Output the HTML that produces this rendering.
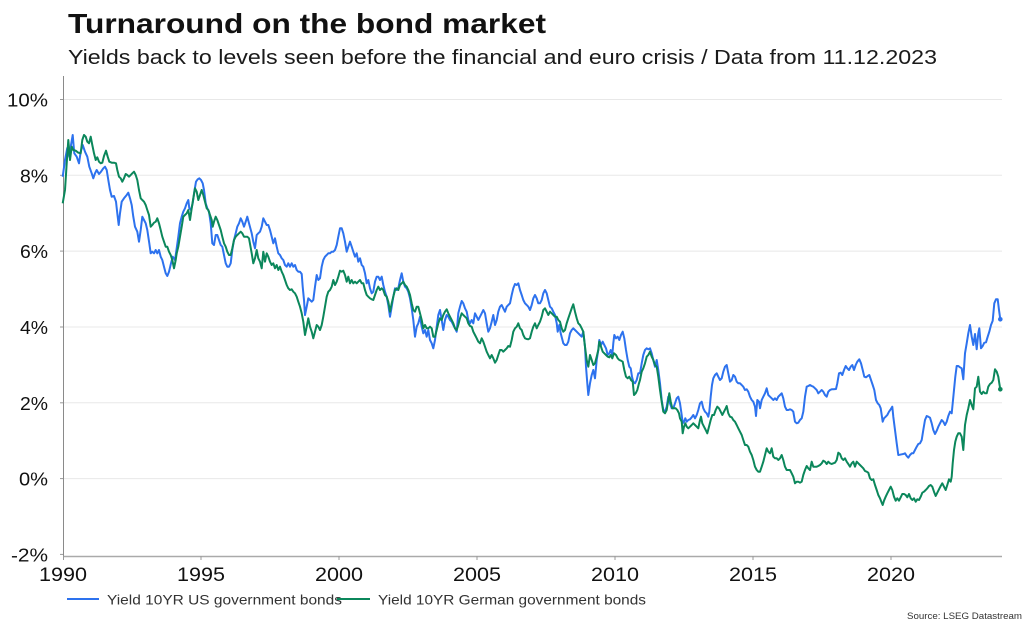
<!DOCTYPE html>
<html>
<head>
<meta charset="utf-8">
<style>
  html,body{margin:0;padding:0;background:#fff;}
  svg{display:block;}
  text{font-family:"Liberation Sans",sans-serif;fill:#111;}
</style>
</head>
<body>
<svg width="1024" height="623" viewBox="0 0 1024 623" xmlns="http://www.w3.org/2000/svg">
  <rect width="1024" height="623" fill="#fff"/>
  <!-- Title -->
  <text x="68" y="33" font-size="28" font-weight="bold" textLength="478" lengthAdjust="spacingAndGlyphs">Turnaround on the bond market</text>
  <text x="68" y="64" font-size="20" textLength="869" lengthAdjust="spacingAndGlyphs" style="fill:#1a1a1a">Yields back to levels seen before the financial and euro crisis / Data from 11.12.2023</text>

  <!-- gridlines -->
  <g stroke="#e8e8e8" stroke-width="1">
    <line x1="63" y1="99.5" x2="1002" y2="99.5"/>
    <line x1="63" y1="175.3" x2="1002" y2="175.3"/>
    <line x1="63" y1="251.1" x2="1002" y2="251.1"/>
    <line x1="63" y1="327" x2="1002" y2="327"/>
    <line x1="63" y1="402.8" x2="1002" y2="402.8"/>
    <line x1="63" y1="478.6" x2="1002" y2="478.6"/>
  </g>
  <!-- y ticks -->
  <g stroke="#999" stroke-width="1">
    <line x1="60" y1="99.5" x2="63" y2="99.5"/>
    <line x1="60" y1="175.3" x2="63" y2="175.3"/>
    <line x1="60" y1="251.1" x2="63" y2="251.1"/>
    <line x1="60" y1="327" x2="63" y2="327"/>
    <line x1="60" y1="402.8" x2="63" y2="402.8"/>
    <line x1="60" y1="478.6" x2="63" y2="478.6"/>
    <line x1="60" y1="554.4" x2="63" y2="554.4"/>
  </g>
  <!-- axes -->
  <line x1="63.5" y1="76" x2="63.5" y2="557" stroke="#8a8a8a" stroke-width="1"/>
  <line x1="63" y1="556.5" x2="1002" y2="556.5" stroke="#aaa" stroke-width="1.5"/>
  <g stroke="#999" stroke-width="1">
    <line x1="63.5" y1="556" x2="63.5" y2="560"/>
    <line x1="201" y1="556" x2="201" y2="560"/>
    <line x1="339" y1="556" x2="339" y2="560"/>
    <line x1="477" y1="556" x2="477" y2="560"/>
    <line x1="615" y1="556" x2="615" y2="560"/>
    <line x1="753" y1="556" x2="753" y2="560"/>
    <line x1="891" y1="556" x2="891" y2="560"/>
  </g>

  <!-- y labels -->
  <g font-size="18">
    <text x="7" y="106.5" textLength="41" lengthAdjust="spacingAndGlyphs">10%</text>
    <text x="20" y="182.3" textLength="28" lengthAdjust="spacingAndGlyphs">8%</text>
    <text x="20" y="258.1" textLength="28" lengthAdjust="spacingAndGlyphs">6%</text>
    <text x="20" y="334" textLength="28" lengthAdjust="spacingAndGlyphs">4%</text>
    <text x="20" y="409.8" textLength="28" lengthAdjust="spacingAndGlyphs">2%</text>
    <text x="19" y="485.6" textLength="29" lengthAdjust="spacingAndGlyphs">0%</text>
    <text x="11" y="561.4" textLength="37" lengthAdjust="spacingAndGlyphs">-2%</text>
  </g>
  <!-- x labels -->
  <g font-size="19">
    <text x="39" y="581" textLength="48" lengthAdjust="spacingAndGlyphs">1990</text>
    <text x="177" y="581" textLength="48" lengthAdjust="spacingAndGlyphs">1995</text>
    <text x="315" y="581" textLength="48" lengthAdjust="spacingAndGlyphs">2000</text>
    <text x="453" y="581" textLength="48" lengthAdjust="spacingAndGlyphs">2005</text>
    <text x="591" y="581" textLength="48" lengthAdjust="spacingAndGlyphs">2010</text>
    <text x="729" y="581" textLength="48" lengthAdjust="spacingAndGlyphs">2015</text>
    <text x="867" y="581" textLength="48" lengthAdjust="spacingAndGlyphs">2020</text>
  </g>

  <!-- US series -->
  <polyline fill="none" stroke="#2d72ee" stroke-width="2" stroke-linejoin="round" points="
62.7,176.7 65,160 67.3,148 69.3,156.7 71,145 72.7,135 74.3,153.3 76.7,156.7 79,163.3 80.7,151.7 82.7,145 85,151.7 87.3,156.7 89.3,166.7 91.7,173.3 93.3,178.3 95,173.3 96.7,170 99,174 101,171.7 103.3,168.3 105,166.7 106.7,170 108.3,180 110,190 111.7,196.7 114,196 116,201.7 117.3,213.3 118.7,225 120,213.3 121.7,201.7 124,198.3 126.7,195 128.3,192.7 130,198.3 131.7,205 133.3,216.7 135,226.7 137.3,231.7 139,241.7 140.7,230 142.3,216.7 144,220 145.7,223.3 147.3,230 149.3,243.3 150.7,253.3 152.3,251.7 154,253.3 155.7,250 157.3,253.3 159,250 160.7,256.7 162.3,260 164,266.7 165.7,273.3 167.3,276 169,271.7 171,263.3 172.7,256.7 175,260 176.7,248.3 178.3,236.7 180,223.3 181.7,216.7 183.3,211.7 185,208.3 186.7,203.3 188.3,200 189.3,208.3 191,210 192.7,203.3 194.3,191.7 196,181.7 197.7,179.3 199.3,178.3 201,180 202.7,183.3 204,190 205.7,203.3 207.3,208.3 209,211.7 210.7,223.3 212.3,243.3 214,245 215.7,235 217.3,235 219,240 220.7,245 222.3,246.7 224,255 225.7,263.3 227.3,266.7 229,266.7 230.7,263.3 232.3,250 234,240 235.7,233.3 237.3,226.7 239,223.3 240.7,218.3 242.3,221.7 244,226.7 245.7,221.7 247.3,216.7 249,223.3
251.7,233.3 253.3,241.7 255,248.3 256.7,235 258.3,233.3 260,231.7 261.7,226.7 263.3,218.3 265,221.7 266.7,225 268.3,225 270,230 271.7,236.7 273.3,243.3 275,238.3 276.7,246.7 278.3,253.3 280,255 281.7,258.3 283.3,260 285,265 286.7,266.7 288.3,263.3 290,266.7 291.7,263.3 293.3,266.7 295,265 296.7,270 298.3,271.7 300,271.7 301.7,274 302.7,286.7 304,300 305,315 306.7,306.7 308.3,298.3 310,300 311.7,301.7 313.3,300 315,286.7 316.7,275 318.3,280 320,278.3 321.7,266.7 323.3,260 325,256.7 326.7,255 328.3,253.3 330,253.3 331.7,251.7 333.3,251.7 335,250 336.7,245 338.3,236.7 340,228.3 341.7,228.3 343.3,233.3 345,241.7 346.7,251.7 348.3,246.7 350,241.7 351.7,246.7 353.3,251.7 355,256.7 356.7,253.3 358.3,261.7 360,258.3 361.7,265 363.3,266.7 365,273.3 366.7,283.3 368.3,280 370,288.3 371.7,293.3 373.3,291.7 375,281.7 376.7,276.7 378.3,276.7 380,280 381.7,276.7 383.3,285 385,291.7 386.7,296.7 388.3,305 390,316.7 391.7,306.7 393.3,296.7 395,288.3 396.7,290 398.3,288.3 400,280 401.7,273.3 403.3,281.7 405,286.7 406.7,288.3 408.3,291.7 410,298.3 411.7,308.3 413.3,320 415,336.7 416.7,326.7 418.3,323.3 420,316.7 421.7,326.7 423.3,333.3 425,330 426.7,336.7 428.3,330 430,340 431.7,343.3 433.3,348.3 435,340 436.7,326.7 438.3,315
440,310 441.7,320 443.3,330 445,320 446.7,315 448.3,316.7 450,320 451.7,321.7 453.3,325 455,328.3 456.7,331.7 458.3,313.3 460,306.7 461.7,301 463.3,303.3 465,308.3 466.7,311.7 468.3,320 470,323.3 471.7,320 473.3,323.3 475,313.3 476.7,316.7 478.3,320 480,316.7 481.7,313.3 483.3,310 485,313.3 486.7,323.3 488.3,331.7 490,328.3 491.7,321.7 493.3,315 495,325 496.7,320 498.3,311.7 500,306.7 501.7,305 503.3,308.3 505,311.7 506.7,306.7 508.3,305 510,303.3 511.7,295 513.3,288.3 515,284 516.7,285 518.3,283.3 520,290 521.7,295 523.3,300 525,303.3 526.7,305 528.3,306.7 530,310 531.7,305 533.3,298.3 535,295 536.7,298.3 538.3,303.3 540,303.3 541.7,300 543.3,293.3 545,290 546.7,293.3 548.3,300 550,306.7 551.7,308.3 553.3,311.7 555,315 556.7,323.3 557.7,331.7 559.3,325 560.7,333.3 562,338.3 563.3,343.3 565,345 566.7,345 568.3,341.7 570,333.3 571.7,330 573.3,328.3 575,330 576.7,331.7 578.3,333.3 580,335 581.7,336.7 583.3,331.7 585,346.7 586,366.7 587.3,383.3 588.3,395 590,383.3 591.7,375 593.3,370 595,378.3 596.7,360 598.3,350 599.3,340 601,345 602.7,341.7 604.3,345 606,348.3 607.7,355 609.3,353.3 610.7,350 612.3,355 613.3,343.3 614.3,335 616,338.3 617.7,336.7 619.3,340 621,335 622.7,331.7 624.3,338.3 626,350 627.7,360 629.3,366.7 630.7,368.3 632,376.7 633.3,381.7 635,383.3 636.7,380 638.3,373.3 640,373.3
641.7,363.3 643.3,355 645,350 646.7,348.3 648.3,349.3 650,348.3 651.7,353.3 653.3,360 655,366.7 656.7,360 658.3,370 660,383.3 661.7,400 663.3,410 665,411.7 666.7,406.7 668.3,396.7 670,403.3 671.7,408.3 673.3,408.3 675,403.3 676.7,398.3 678.3,396.7 680,403.3 681.7,415 682.7,423.3 684,421.7 685.3,418.3 686.7,421.7 688.3,420 690,419.3 691.7,417.3 693.3,415 695,418.3 696.7,415 698.3,410 700,403.3 701.7,401.7 703.3,408.3 705,411.7 706.7,413.3 708.3,416.7 709.3,411.7 710.7,396.7 712,385 713.3,378.3 715,375 716.7,373.3 718.3,376.7 720,380 721.7,378.3 723.3,371.7 725,366.7 726.7,365 728.3,373.3 730,381.7 731.7,380 733.3,375 735,376.7 736.7,381.7 738.3,383.3 740,383.3 741.7,385 743.3,386.7 745,390 746.7,389.3 748.3,391.7 750,396.7 751.7,400 753.3,401.7 755,406.7 756,416 757.3,400 759,401.7 760,408.3 761.7,400 763.3,396.7 765,393.3 766.7,388.3 768.3,395 770,396.7 771.7,398.3 773.3,400 775,398.3 776.7,400 778.3,396.7 780,395 781.7,393.3 783.3,398.3 785,406.7 786.7,410 788.3,410 790,409.3 791.7,410 793.3,411.7 795,421.7 796.7,423.3 798.3,422.7 800,420 801.7,418.3 803.3,411.7 805,396.7 806.7,386.7 808.3,386 810,385 811.7,386 813.3,386.7 815,388.3 816.7,390 818.3,393.3 820,391.7 821.7,390 823.3,391.7 825,395 826.7,396.7 828.3,391.7 830,390
831.7,389.3 833.3,389.3 836,389 837.3,383.3 839,373.3 840.7,372.7 842.3,375 844,370 845.7,366 847.3,368.3 849,370 850.7,366.7 852.3,365 854,370 855.7,365 857.3,361.7 859.3,359.3 861,363.3 862.7,370 864.3,376.7 866,377.3 867.7,376 869.3,375 871,380 872.7,385 874.3,390 876,400 877.7,403.3 879.3,405 880.7,408.3 881.7,415 882.7,421.7 884,418.3 885.7,416.7 887.3,415 889,411.7 890.7,409.3 892.3,406.7 893.3,416.7 895,430 896.7,443.3 898.3,455 900,454.7 901.7,454.3 903.3,454 905,453.3 906.7,456 908.3,457.7 910,455 911.7,453.3 913.3,453.3 915,450 916.7,446.7 918.3,444 920,443.3 921.7,440 923.3,430 925,420 926.7,416 928.3,416.7 930,417.7 931.7,423.3 933.3,430 935,434 936.7,430.7 938.3,426.7 940,423.3 941.7,420 943.3,421.7 945,425 946.7,421.7 948.3,416 950,411.7 951.7,413.3 952.7,403.3 954,390 955.3,376.7 956.7,366 958.3,366 960,367.3 961.7,368.3 963.3,379.3 965,353.3 966.7,343.3 968.3,333.3 970,325 971.7,336.7 973.3,345 975,334 976.7,349.3 978.3,333.3 979.3,328.3 981,348.3 982.7,346 984.3,342.7 986,342.3 987.7,336.7 989.3,331.7 991,325 992.7,320.7 994.3,303.3 996,299.3 997.7,299.3 999,310 1000.3,319.3"/>
  <circle cx="1000.3" cy="319.3" r="2.3" fill="#2d72ee"/>

  <!-- German series -->
  <polyline fill="none" stroke="#0b875b" stroke-width="2" stroke-linejoin="round" points="
62.7,203.3 65,190 66.7,163.3 68.3,140 70,160 71.7,146.7 73.3,150 75.7,150.7 78.3,152.7 80.7,153.3 82.3,140 84,135 85.7,136.7 87.3,141.7 89,143.3 90.7,136.7 92.3,145 94,153.3 95.7,160 97.3,157.3 99,161.7 100.7,163.3 102.3,162.7 104,156 106,150.7 107.7,156.7 109.3,161.7 111.7,162.7 114,162.7 116,163.3 117.3,170 119,176.7 120.7,178.3 122.3,181.7 124,178.3 125.7,174 127.3,175 129,176.7 130.7,175 132.3,173.3 134,171.7 135.7,175 137.3,180 139,190 140.7,198.3 142.3,200 144,201.7 145.7,205 147.3,210 149,215 150.7,226.7 152.3,225 154,222.7 155.7,221.7 157.3,218.3 159,223.3 160.7,230 162.3,236.7 164,241.7 165.7,246.7 167.3,246.7 169,251.7 170.7,255 172.3,260 174,268.3 175.7,260 176.7,253.3 178.3,246.7 180,236.7 181.7,226.7 183.3,216.7 185,215 186.7,213.3 188.3,210 190,220 191.7,208.3 193.3,198.3 195,188.3 196.7,191.7 198.3,200 200,195 201.7,190 203.3,195 205,201.7 206.7,208.3 208.3,210 210,215 211.7,220 212.7,226.7 214,221.7 215.7,216.7 217.3,220 219,225 220.7,230 222.3,236.7 224,243.3 225.7,246.7 227.3,251.7 229,255 230.7,255 232.3,248.3 234,240 235.7,236.7 237.3,235 239,233.3 240.7,231.7 242.3,233.3 244,236.7 245.7,236.7 247.3,236.7 249,238.3
251.7,253.3 253.3,263.3 255,258.3 256.7,250 258.3,258.3 260,261.7 261.7,268.3 263.3,251.7 265,261.7 266.7,253.3 268.3,256.7 270,261.7 271.7,265 273.3,263.3 275,268.3 276.7,265 278.3,270 280,266.7 281.7,271.7 283.3,275 285,280 286.7,285 288.3,288.3 290,290 291.7,289.3 293.3,291.7 295,293.3 296.7,296.7 298.3,301.7 300,306.7 301.7,313.3 303.3,321.7 305,335 306.7,326.7 308.3,318.3 310,326.7 311.7,331.7 313.3,338.3 315,331.7 316.7,325 318.3,326.7 320,330 321.7,325 323.3,316.7 325,306.7 326.7,296.7 328.3,291.7 330,290 331.7,286.7 333.3,280 335,285 336.7,281.7 338.3,276.7 340,270.7 341.7,271.7 343.3,270.7 345,275 346.7,281.7 348.3,276.7 350,283.3 351.7,280 353.3,283.3 355,281.7 356.7,283.3 358.3,281.7 360,280 361.7,283.3 363.3,283.3 365,290 366.7,295 368.3,296.7 370,298.3 371.7,299.3 373.3,300 375,295 376.7,290 378.3,286.7 380,290 381.7,288.3 383.3,290 385,295 386.7,296.7 388.3,301.7 390,311.7 391.7,303.3 393.3,296.7 395,290 396.7,288.3 398.3,290 400,285 401.7,283.3 403.3,281.7 405,285 406.7,286.7 408.3,290 410,295 411.7,303.3 413.3,310 415,311.7 416.7,306.7 418.3,306.7 420,313.3 421.7,320 423.3,328.3 425,325 426.7,328.3 428.3,328.3 430,326.7 431.7,328.3 433.3,336.7 435,336.7 436.7,330 438.3,323.3
440,318.3 441.7,320 443.3,315 445,311.7 446.7,309.3 448.3,313.3 450,316.7 451.7,320 453.3,323.3 455,328.3 456.7,330 458.3,325 460,318.3 461.7,313.3 463.3,315 465,316.7 466.7,318.3 468.3,323.3 470,326 471.7,326.7 473.3,331.7 475,335 476.7,338.3 478.3,341.7 480,343.3 481.7,338.3 483.3,341.7 485,346.7 486.7,351.7 488.3,355 490,358.3 491.7,355 493.3,358.3 495,362.7 496.7,360 498.3,355 500,350 501.7,350 503.3,351.7 505,350 506.7,348.3 508.3,346 510,346.7 511.7,340 513.3,331.7 515,328.3 516.7,326.7 518.3,323.3 520,328.3 521.7,330 523.3,335 525,338.3 526.7,339 528.3,339.3 530,338.3 531.7,331.7 533.3,326.7 535,323.3 536.7,328.3 538.3,325 540,321.7 541.7,316.7 543.3,310 545,308.3 546.7,311.7 548.3,315 550,311.7 551.7,313.3 553.3,315 555,316.7 556.7,316.7 558.3,320 560,321.7 561.7,328.3 563.3,331.7 565,330 566.7,323.3 568.3,318.3 570,313.3 571.7,308.3 573.3,304.3 575,311.7 576.7,318.3 578.3,323.3 580,325 581.7,328.3 583.3,331.7 585,346.7 586.7,360 588.3,366.7 590,355 591.7,360 593.3,365 595,363.3 596.7,356.7 598.3,350 599.3,341.7 601,346.7 602.7,351.7 604.3,353.3 606,355 607.7,356.7 609.3,357.3 610.7,355 612.3,358.3 614,353.3 616,355 617.7,358.3 619.3,360 621,360.7 622.7,361.7 624.3,370 626,376.7 627.7,378.3 629.3,376.7 631,380 632.7,381.7 634,395 635.7,393.3 637.3,390 639,383.3 640,380
641.7,371.7 643.3,368.3 645,363.3 646.7,356.7 648.3,355 650,351.7 651.7,356.7 653.3,360 655,365 656.7,366.7 658.3,376.7 660,390 661.7,401.7 663.3,411.7 665,413.3 666.7,410 668.3,400 669.3,393.3 670.7,401.7 672.3,408.3 674,408.3 675.7,408.3 677.3,410 679,413.3 680,418.3 681.7,421.7 682.7,433.3 684,426.7 685.3,423.3 686.7,426.7 688.3,428.3 690,426.7 691.7,425 693.3,423.3 695,425 696.7,426.7 698.3,428.3 700,420 701,416.7 702.3,423.3 704,426.7 705.7,430 707.3,433.3 709,426.7 710.7,420 712.3,415 714,415 715.7,410 717.3,406.7 719,408.3 720.7,411.7 722.3,415 724,411.7 725.7,408.3 726.7,406 728.3,413.3 730,416.7 731.7,417.3 733.3,420 735,421.7 736.7,425 738.3,428.3 740,431.7 741.7,435 743.3,440 745,445 746.7,445 748.3,446.7 750,451.7 751.7,455 753.3,460 755,466.7 756.7,470 758.3,471.7 760,471.7 761.7,466.7 763.3,461.7 765,455 766.7,448.3 768.3,451.7 770,453.3 771.7,448.3 773.3,456.7 775,458.3 776.7,458.3 778.3,460 780,458.3 781.7,455 783.3,460 785,466.7 786.7,470 788.3,470 790,470 791.7,473.3 793.3,476.7 795,483.3 796.7,481.7 798.3,481.7 800,482.7 801.7,481.7 803.3,475 805,470 806.7,466 808.3,468.3 810,470 811.7,461.7 813.3,466.7 815,466.7 816.7,466.7 818.3,466 820,465 821.7,463.3 823.3,460.7 825,461.7 826.7,464 828.3,461.7 830,463.3
831.7,464 833.3,463.3 835,462.7 836.7,460 838.3,452.7 840,454 841.7,458.3 843.3,460 845,458.3 846.7,461.7 848.3,464 850,466.7 851.7,463.3 853.3,461.7 855,466.7 856.7,461.7 858.3,463.3 860,465 861.7,466.7 863.3,468.3 865,471 866.7,471.7 868.3,472.7 870,478.3 871.7,480 873.3,479.3 875,485 876.7,490 878.3,495 880,498.3 881.7,502.7 882.7,505 884,500.7 885.7,496.7 887.3,493.3 889,490 890.7,486.7 892.3,490 894,496.7 895.7,500.7 897.3,498.3 899,500.7 900.7,497.3 902.3,494 904,494 905.7,495 907.3,497.3 909,494 910.7,498.3 912.3,500 914,498.3 915.7,501.7 917.3,499.3 919,500 920.7,496.7 922.3,492.7 924,491.7 925.7,490 927.3,488.3 929,486 930.7,485 932.3,486.7 934,491.7 935.7,496 937.3,492.7 939,489.3 940.7,486 942.3,483.3 944,486.7 945.7,490 947.3,485 949,479.3 950.7,481.7 951.7,476.7 952.7,463.3 954,450 955.3,441.7 956.7,436.7 958.3,433.3 960,433.3 961.7,436.7 963.3,450 965,425 966.7,415 968.3,408.3 970,400 971.7,405 973.3,409.3 975,388.3 976.7,386.7 978.3,376.7 980,391.7 981.7,394 983.3,391.7 985,393.3 986.7,393.3 988.3,386.7 990,384 991.7,382.7 993.3,380 995,369.3 996.7,371.7 998.3,376.7 999.3,383.3 1000.3,389.3"/>
  <circle cx="1000.3" cy="389.3" r="2.3" fill="#0b875b"/>

  <!-- legend -->
  <line x1="67" y1="599" x2="99" y2="599" stroke="#2d72ee" stroke-width="2"/>
  <text x="107" y="604.5" font-size="14" textLength="235" lengthAdjust="spacingAndGlyphs" style="fill:#333">Yield 10YR US government bonds</text>
  <line x1="337" y1="599" x2="370" y2="599" stroke="#0b875b" stroke-width="2"/>
  <text x="378" y="604.5" font-size="14" textLength="268" lengthAdjust="spacingAndGlyphs" style="fill:#333">Yield 10YR German government bonds</text>

  <!-- source -->
  <text x="907" y="619" font-size="9.5" textLength="115" lengthAdjust="spacingAndGlyphs" style="fill:#333">Source: LSEG Datastream</text>
</svg>
</body>
</html>
